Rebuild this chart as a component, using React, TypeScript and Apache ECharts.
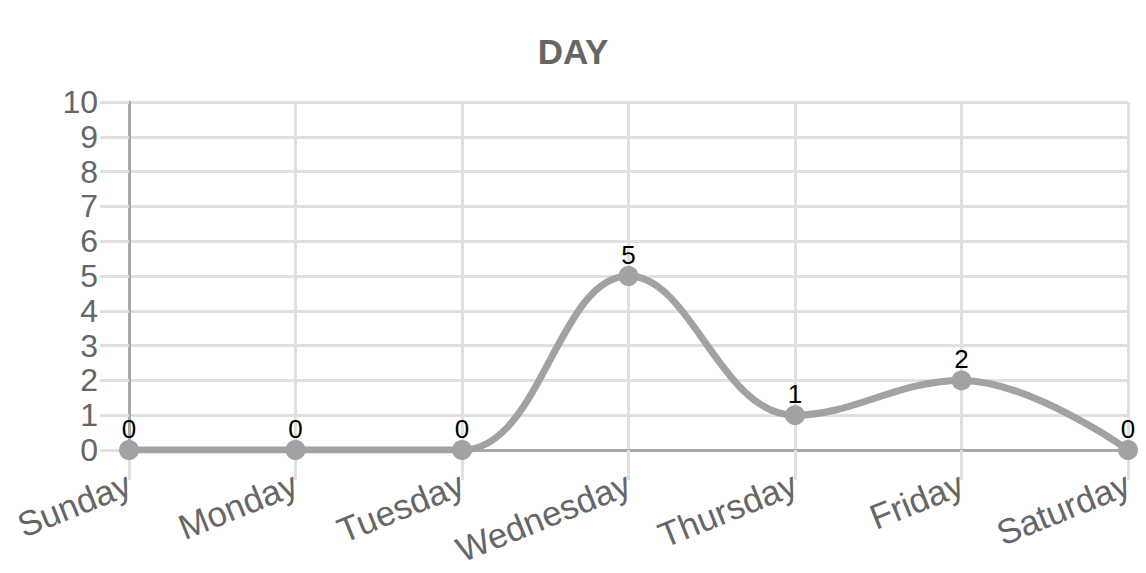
import React, { useEffect, useRef } from "react";
import * as echarts from "echarts";

const days = ["Sunday", "Monday", "Tuesday", "Wednesday", "Thursday", "Friday", "Saturday"];
const counts = [0, 0, 0, 5, 1, 2, 0];
const titleText = "DAY";

export default function App() {
  const ref = useRef<HTMLDivElement>(null);
  useEffect(() => {
    const chart = echarts.init(ref.current!, undefined, { renderer: "svg" });
    const font = "Helvetica, Arial, 'Liberation Sans', sans-serif";
    chart.setOption({
      animation: false,
      title: {
        text: titleText,
        left: "center",
        top: 29,
        textStyle: { fontFamily: font, fontSize: 35, fontWeight: "bold", color: "#666" },
      },
      grid: { left: 129, right: 18, top: 102, bottom: 123, containLabel: false },
      xAxis: {
        type: "category",
        data: days,
        boundaryGap: false,
        axisLine: { show: true, lineStyle: { color: "#a8a8a8", width: 3 } },
        axisTick: { show: true, alignWithLabel: true, length: 30, lineStyle: { color: "#e0e0e0", width: 3 } },
        splitLine: { show: true, lineStyle: { color: "#e0e0e0", width: 3 } },
        axisLabel: {
          rotate: 22,
          margin: 32,
          fontFamily: font,
          fontSize: 35,
          color: "#666",
          interval: 0,
        },
      },
      yAxis: {
        type: "value",
        min: 0,
        max: 10,
        interval: 1,
        axisLine: { show: true, lineStyle: { color: "#a8a8a8", width: 3 } },
        axisTick: { show: true, length: 29, lineStyle: { color: "#e0e0e0", width: 3 } },
        splitLine: { show: true, lineStyle: { color: "#e0e0e0", width: 3 } },
        axisLabel: { margin: 31, fontFamily: font, fontSize: 32, color: "#666", lineHeight: 30 },
      },
      series: [
        {
          type: "line",
          data: counts,
          smooth: 0.4,
          symbol: "circle",
          symbolSize: 20,
          itemStyle: { color: "#a2a2a6" },
          lineStyle: { color: "#a2a2a6", width: 7 },
          label: {
            show: true,
            position: "top",
            distance: -2,
            fontFamily: font,
            fontSize: 26,
            color: "#000",
          },
        },
      ],
    });
    return () => chart.dispose();
  }, []);
  return <div ref={ref} style={{ width: 1146, height: 573, position: "absolute", left: 0, top: 0 }} />;
}
